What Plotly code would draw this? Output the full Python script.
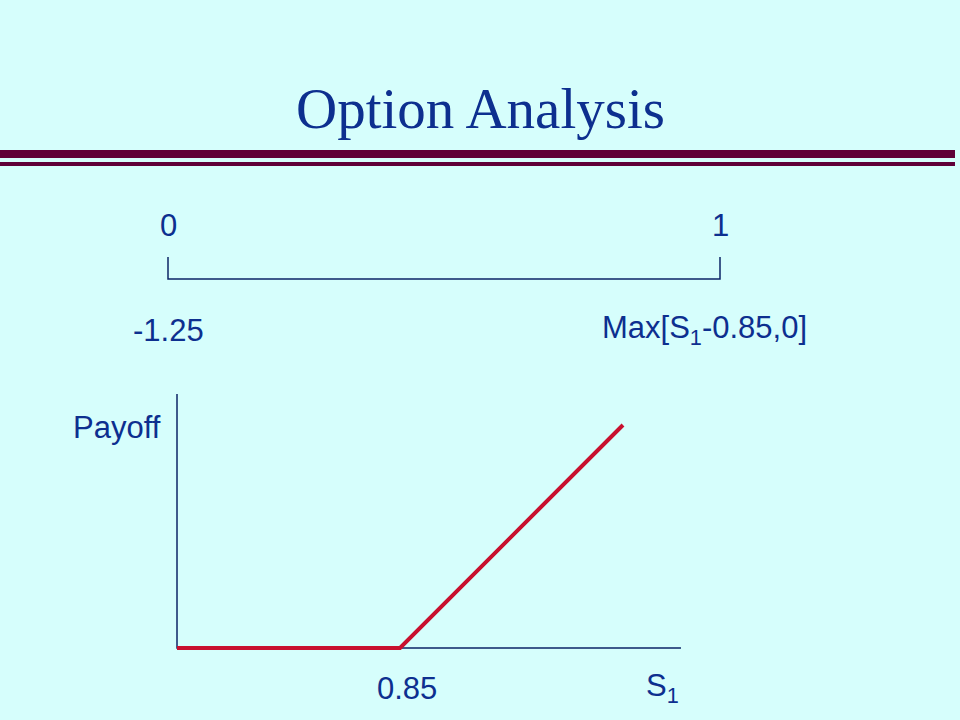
import plotly.graph_objects as go

# ---- data ----
strike = 0.85
s_values = [0.0, 0.85, 1.70]          # S1 values along payoff line
payoff_values = [0.0, 0.0, 0.85]      # Max[S1-0.85, 0]
axis_x_end = 1.921                    # extent of drawn S1 axis
axis_y_end = 0.968                    # extent of drawn payoff axis
s_label_pos = 1.852

time_points = [0, 1]
time_labels = ["0", "1"]
cash_flows = ["-1.25", "Max[S<sub>1</sub>-0.85,0]"]

# ---- style ----
BG = "#d6fefc"
NAVY = "#0d2f8f"
AXIS = "#0c2466"
RED = "#c8102e"
MAROON = "#600038"
W, H = 960, 720
SANS = "Liberation Sans, Arial, sans-serif"
SERIF = "Liberation Serif, Times New Roman, serif"

# payoff chart axes placement
PX = 262.35
x0px, y0px = 177, 648
xr = [-0.1, 2.05]
yr = [-0.1, 1.0]
xdom = [(x0px + xr[0] * PX) / W, (x0px + xr[1] * PX) / W]
ydom = [1 - (y0px - yr[0] * PX) / H, 1 - (y0px - yr[1] * PX) / H]

# timeline axes placement
TX = 552
tx0px, ty0px = 168, 279
TY = 22
x2r = [-0.1, 1.1]
y2r = [-0.5, 1.5]
x2dom = [(tx0px + x2r[0] * TX) / W, (tx0px + x2r[1] * TX) / W]
y2dom = [1 - (ty0px - y2r[0] * TY) / H, 1 - (ty0px - y2r[1] * TY) / H]

fig = go.Figure()

# payoff axes
fig.add_trace(go.Scatter(
    x=[0, 0, axis_x_end], y=[axis_y_end, 0, 0], mode="lines",
    line=dict(color=AXIS, width=1.5), hoverinfo="skip", showlegend=False,
    xaxis="x", yaxis="y"))
# payoff line
fig.add_trace(go.Scatter(
    x=s_values, y=payoff_values, mode="lines",
    line=dict(color=RED, width=4), hoverinfo="skip", showlegend=False,
    xaxis="x", yaxis="y"))
# timeline
fig.add_trace(go.Scatter(
    x=[time_points[0], time_points[0], time_points[1], time_points[1]],
    y=[1, 0, 0, 1], mode="lines",
    line=dict(color=AXIS, width=1.5), hoverinfo="skip", showlegend=False,
    xaxis="x2", yaxis="y2"))

C = dict(xanchor="center", yanchor="middle", showarrow=False)
ann = []
ann.append(dict(text="Option Analysis", xref="paper", yref="paper",
                x=0.5, y=1 - 108 / H, **C,
                font=dict(family=SERIF, size=57, color=NAVY)))
for t, lab, cf, xs in zip(time_points, time_labels, cash_flows, [0, -16]):
    ann.append(dict(text=lab, xref="x2", yref="y2", x=t, y=0, yshift=54, **C,
                    font=dict(family=SANS, size=31, color=NAVY)))
    ann.append(dict(text=cf, xref="x2", yref="y2", x=t, y=0, yshift=-51, xshift=xs, **C,
                    font=dict(family=SANS, size=31, color=NAVY)))
ann.append(dict(text="Payoff", xref="paper", yref="paper",
                x=117 / W, y=1 - 427 / H, **C,
                font=dict(family=SANS, size=31, color=NAVY)))
ann.append(dict(text=f"{strike:.2f}", xref="x", yref="y", x=strike, y=0,
                yshift=-40, xshift=7, **C,
                font=dict(family=SANS, size=31, color=NAVY)))
ann.append(dict(text="S<sub>1</sub>", xref="x", yref="y", x=s_label_pos, y=0,
                yshift=-40, **C,
                font=dict(family=SANS, size=31, color=NAVY)))

shapes = [
    dict(type="rect", xref="paper", yref="paper", x0=0, x1=955 / W,
         y0=1 - 158 / H, y1=1 - 150 / H, fillcolor=MAROON, line=dict(width=0), layer="below"),
    dict(type="rect", xref="paper", yref="paper", x0=0, x1=955 / W,
         y0=1 - 166 / H, y1=1 - 162 / H, fillcolor=MAROON, line=dict(width=0), layer="below"),
]

hidden = dict(visible=False, fixedrange=True, showgrid=False, zeroline=False)
fig.update_layout(
    width=W, height=H, margin=dict(l=0, r=0, t=0, b=0),
    paper_bgcolor=BG, plot_bgcolor="rgba(0,0,0,0)",
    xaxis=dict(range=xr, domain=xdom, **hidden),
    yaxis=dict(range=yr, domain=ydom, **hidden),
    xaxis2=dict(range=x2r, domain=x2dom, anchor="y2", **hidden),
    yaxis2=dict(range=y2r, domain=y2dom, anchor="x2", **hidden),
    annotations=ann, shapes=shapes, showlegend=False,
)

fig.write_html(
    "out.html",
    config={"displayModeBar": False},
    post_script=(
        "document.body.style.margin='0';"
        "document.body.style.padding='0';"
        "document.body.style.overflow='hidden';"
        "document.body.style.background='" + BG + "';"
    ),
)
